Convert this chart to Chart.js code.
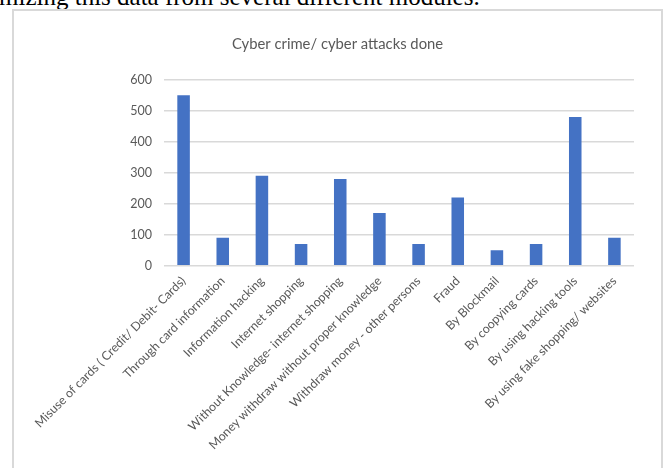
<!DOCTYPE html>
<html>
<head>
<meta charset="utf-8">
<script src="https://cdn.jsdelivr.net/npm/chart.js@4/dist/chart.umd.min.js"></script>
<style>
  body { margin: 0; background: #fff; width: 667px; height: 468px; overflow: hidden; position: relative; }
  #doc-line {
    position: absolute; left: -1px; top: -17px;
    font-family: "Liberation Serif", "Times New Roman", serif; font-size: 25px;
    color: #000; white-space: nowrap;
  }
  #chart-box {
    position: absolute; left: 12px; top: 9px; width: 647px; height: 480px;
    border: 2px solid #d9d9d9;
  }
  #crimes { position: absolute; left: 0; top: 0; }
</style>
</head>
<body>
<div id="doc-line">mizing this data from several different modules.</div>
<div id="chart-box"></div>
<canvas id="crimes" width="667" height="468"></canvas>
<script>
const chartTitle = 'Cyber crime/ cyber attacks done';

const crimeTypes = [
    'Misuse of cards ( Credit/ Debit- Cards)',
    'Through card information',
    'Information hacking',
    'Internet shopping',
    'Without Knowledge- internet shopping',
    'Money withdraw without proper knowledge',
    'Withdraw money - other persons',
    'Fraud',
    'By Blockmail',
    'By coopying cards',
    'By using hacking tools',
    'By using fake shopping/ websites'
];

const attacksDone = [550, 90, 290, 70, 280, 170, 70, 220, 50, 70, 480, 90];

const yTicks = [0, 100, 200, 300, 400, 500, 600];

const grey = '#595959';

new Chart(document.getElementById('crimes'), {
    type: 'bar',
    data: {
        labels: crimeTypes,
        datasets: [{
            label: chartTitle,
            data: attacksDone,
            backgroundColor: '#4472c4',
            categoryPercentage: 1,
            barPercentage: 0.32
        }]
    },
    options: {
        responsive: false,
        animation: false,
        // left/right padding keeps the title centred on the bordered box
        layout: { padding: { left: 41, right: 33, top: 0, bottom: 0 } },
        plugins: {
            legend: { display: false },
            tooltip: { enabled: false },
            title: {
                display: true,
                text: chartTitle,
                color: grey,
                font: { family: 'Lato', size: 14.8, weight: 'normal' },
                padding: { top: 35, bottom: 27 }
            }
        },
        scales: {
            x: {
                grid: { display: false },
                border: { display: false },
                ticks: {
                    color: grey,
                    font: { family: 'Lato', size: 12.3 },
                    autoSkip: false,
                    minRotation: 45,
                    maxRotation: 45,
                    padding: 0
                },
                afterFit: (scale) => { scale.height = 202.3; }
            },
            y: {
                min: 0,
                max: 600,
                afterBuildTicks: (scale) => { scale.ticks = yTicks.map(v => ({ value: v })); },
                grid: { color: '#d9d9d9', lineWidth: 1.5, drawTicks: false },
                border: { display: false },
                ticks: {
                    color: grey,
                    font: { family: 'Lato', size: 12.5 },
                    padding: 12
                },
                afterFit: (scale) => { scale.width = 123; }
            }
        }
    }
});
</script>
</body>
</html>
